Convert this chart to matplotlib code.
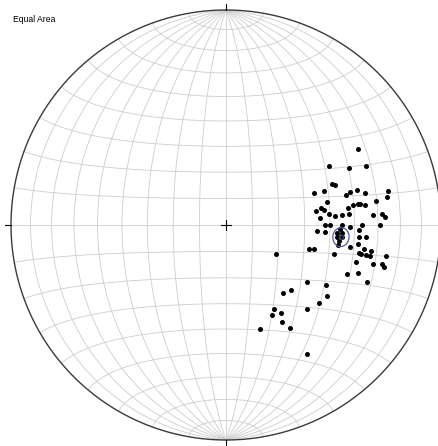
import numpy as np
import matplotlib
matplotlib.use("Agg")
import matplotlib.pyplot as plt

# pole data (lower hemisphere, degrees)
trend = [60, 60, 65, 67, 69, 70, 70, 71, 75, 75, 76, 77, 78, 80, 81, 77, 82,
         81, 81, 81, 82, 81, 80, 81, 84, 85, 85, 85, 86, 86, 87, 86, 90, 90,
         90, 91, 90, 92, 90, 94, 94, 94, 94, 92, 95, 95, 100, 100, 98, 106,
         105, 100, 100, 120, 105, 102, 102, 102, 102, 101, 106, 105, 104, 105,
         112, 110, 112, 125, 121, 135, 140, 125, 130, 150, 136, 153, 148, 150,
         162, 148, 148, 96, 96, 98]
plunge = [30, 44, 37, 30, 46, 45, 54, 50, 40, 37, 42, 34, 24, 25, 30, 50, 42,
          40, 38, 37, 35, 55, 53, 52, 50, 48, 45, 42, 32, 28, 27, 54, 52, 50,
          45, 42, 37, 38, 29, 55, 52, 47, 45, 46, 38, 35, 46, 41, 38, 57, 55,
          35, 32, 68, 47, 37, 36, 34, 32, 25, 37, 30, 26, 25, 39, 35, 30, 52,
          45, 55, 56, 42, 43, 53, 45, 51, 50, 47, 48, 43, 30, 47, 45, 46]
mean_trend, mean_plunge, a95 = 96, 45.3, 3.3


def project(e, n, d):
    # lambert equal area, unit primitive
    s = np.sqrt(1 + d)
    return e / s, n / s


def line_xy(t, p):
    t, p = np.radians(t), np.radians(p)
    return project(np.cos(p) * np.sin(t), np.cos(p) * np.cos(t), np.sin(p))


fig = plt.figure(figsize=(4.39, 4.46), dpi=100)
ax = fig.add_axes([0, 0, 1, 1])
ax.set_xlim(-226 / 215, 213 / 215)
ax.set_ylim(-221 / 215, 225 / 215)
ax.set_aspect("equal")
ax.axis("off")

grid_c = "#cdcdcd"
u = np.radians(np.linspace(-90, 90, 361))
for g in range(-80, 90, 10):
    g = np.radians(g)
    # meridians (N-S axis)
    x, y = project(np.cos(u) * np.sin(g), np.sin(u), np.cos(u) * np.cos(g))
    ax.plot(x, y, color=grid_c, lw=0.6)
    # small circles about N-S axis
    x, y = project(np.cos(g) * np.sin(u), np.sin(g) * np.ones_like(u), np.cos(g) * np.cos(u))
    ax.plot(x, y, color=grid_c, lw=0.6)

th = np.linspace(0, 2 * np.pi, 400)
ax.plot(np.cos(th), np.sin(th), color="#3a3a3a", lw=1.0)

tk = 6 / 215
for dx, dy in [(0, 1), (0, -1), (1, 0), (-1, 0)]:
    ax.plot([dx, dx * (1 + tk)], [dy, dy * (1 + tk)], color="black", lw=0.8)
c = 5 / 215
ax.plot([-c, c], [0, 0], color="black", lw=0.8)
ax.plot([0, 0], [-c, c], color="black", lw=0.8)

x, y = line_xy(np.array(trend), np.array(plunge))
ax.plot(x, y, "o", color="black", ms=3.6, mec="none")

# confidence cone around the mean
tm, pm = np.radians(mean_trend), np.radians(mean_plunge)
m = np.array([np.cos(pm) * np.sin(tm), np.cos(pm) * np.cos(tm), np.sin(pm)])
a = np.cross(m, [0, 0, 1.0])
a /= np.linalg.norm(a)
b = np.cross(m, a)
al = np.radians(a95)
v = np.cos(al) * m[:, None] + np.sin(al) * (np.outer(a, np.cos(th)) + np.outer(b, np.sin(th)))
x, y = project(v[0], v[1], v[2])
ax.plot(x, y, color="#5555b0", lw=0.9)
mx, my = line_xy(mean_trend, mean_plunge)
ax.plot(mx, my, "s", color="#3a3a90", ms=3, mfc="none", mew=0.8)

fig.text(13 / 439, 1 - 19 / 446, "Equal Area", family="Liberation Sans", fontsize=6.2,
         va="center", ha="left")

fig.savefig("out.png", dpi=100)
